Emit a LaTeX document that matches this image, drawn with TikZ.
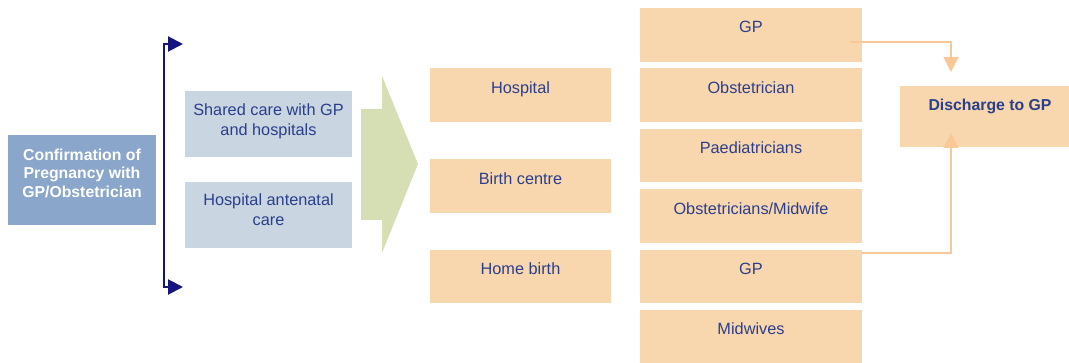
\documentclass[tikz,border=0pt]{standalone}
\usepackage{fontspec}
\setmainfont{Liberation Sans}
\usetikzlibrary{arrows.meta}
\definecolor{cblue}{HTML}{8BA6CB}
\definecolor{clblue}{HTML}{CAD5E2}
\definecolor{cgreen}{HTML}{D6DFB4}
\definecolor{corange}{HTML}{F9D7AE}
\definecolor{cline}{HTML}{FAC897}
\definecolor{ctext}{HTML}{2A3F8C}
\definecolor{cnavy}{HTML}{14147F}
\begin{document}
\begin{tikzpicture}[x=1pt,y=-1pt,
  boxbase/.style={draw=none, inner sep=0, outer sep=0, anchor=north west},
  bluebox/.style={boxbase, fill=cblue},
  lbox/.style={boxbase, fill=clblue},
  obox/.style={boxbase, fill=corange},
  txt/.style={inner sep=0, anchor=base, align=center, text=ctext, font=\fontsize{16.3}{20}\selectfont},
  btxt/.style={txt, font=\fontsize{15.8}{18.5}\selectfont\bfseries},
  bracket/.style={draw=cnavy, line width=2pt, {Triangle[length=15pt,width=15pt]}-{Triangle[length=15pt,width=15pt]}},
  conn/.style={draw=cline, line width=1.8pt, -{Triangle[length=15pt,width=15pt]}}
]
\useasboundingbox (0,0) rectangle (1069,363);

% left box
\node[bluebox, minimum width=148pt, minimum height=90pt] (conf) at (8,135) {};
\node[btxt, text=white] (conft) at (82,197.5) {Confirmation of\\Pregnancy with\\GP/Obstetrician};

% bracket
\coordinate (brt) at (183,44);
\coordinate (brb) at (183,287);
\coordinate (brc1) at (164,44);
\coordinate (brc2) at (164,287);
\draw[bracket] (brt) -- (brc1) -- (brc2) -- (brb);

% light blue boxes
\node[lbox, minimum width=167pt, minimum height=66pt] (shared) at (185,91) {};
\node[txt] (sharedt) at (268.5,135.5) {Shared care with GP\\and hospitals};
\node[lbox, minimum width=167pt, minimum height=66pt] (hosp) at (185,182) {};
\node[txt] (hospt) at (268.5,225.5) {Hospital antenatal\\care};

% green arrow
\fill[cgreen] (361,109) -- (382,109) -- (382,76) -- (418,164) -- (382,253) -- (382,220) -- (361,220) -- cycle;

% middle column
\node[obox, minimum width=181pt, minimum height=54pt] (m1) at (430,68) {};
\node[txt] (m1t) at (520.5,94) {Hospital};
\node[obox, minimum width=181pt, minimum height=54pt] (m2) at (430,159) {};
\node[txt] (m2t) at (520.5,185) {Birth centre};
\node[obox, minimum width=181pt, minimum height=53pt] (m3) at (430,250) {};
\node[txt] (m3t) at (520.5,275) {Home birth};

% right column
\node[obox, minimum width=222pt, minimum height=54pt] (r1) at (640,8) {};
\node[txt] (r1t) at (751,33) {GP};
\node[obox, minimum width=222pt, minimum height=54pt] (r2) at (640,68) {};
\node[txt] (r2t) at (751,94) {Obstetrician};
\node[obox, minimum width=222pt, minimum height=53pt] (r3) at (640,129) {};
\node[txt] (r3t) at (751,154) {Paediatricians};
\node[obox, minimum width=222pt, minimum height=54pt] (r4) at (640,189) {};
\node[txt] (r4t) at (751,215) {Obstetricians/Midwife};
\node[obox, minimum width=222pt, minimum height=53pt] (r5) at (640,250) {};
\node[txt] (r5t) at (751,275) {GP};
\node[obox, minimum width=222pt, minimum height=53pt] (r6) at (640,310) {};
\node[txt] (r6t) at (751,335) {Midwives};

% discharge
\node[obox, minimum width=169pt, minimum height=61pt] (dis) at (900,86) {};
\node[btxt, text=ctext] (dist) at (990,110.5) {Discharge to GP};

% connectors
\coordinate (c1s) at (850,42);
\coordinate (c1e) at (951,72);
\draw[conn] (c1s) -| (c1e);
\coordinate (c2s) at (862,253);
\coordinate (c2e) at (951,133);
\draw[conn] (c2s) -| (c2e);
\end{tikzpicture}
\end{document}
